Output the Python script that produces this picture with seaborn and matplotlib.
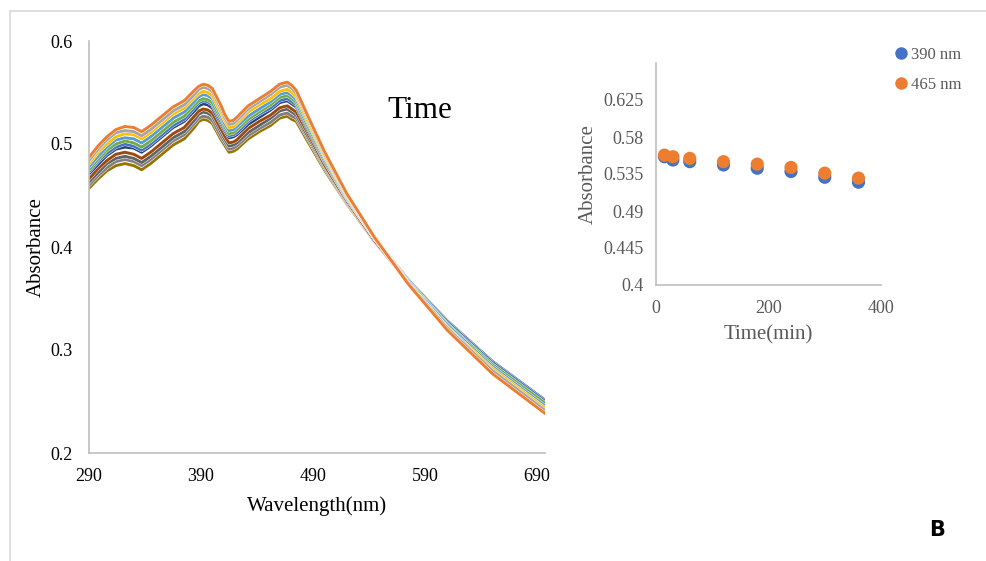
import numpy as np
import pandas as pd
import matplotlib
matplotlib.use("Agg")
import matplotlib.pyplot as plt
import matplotlib.patheffects as pe
from matplotlib.patches import Rectangle
from matplotlib.lines import Line2D
import seaborn as sns

# ---------------- data ----------------
wavelength = [290, 298, 306, 314, 322, 330, 337, 345, 355, 365, 375, 384, 388, 392, 396, 400, 408,
              411, 415, 419, 422, 432, 442, 452, 460, 463, 467, 471, 475, 485, 500, 520, 545,
              575, 610, 650, 700]

orange = [.487, .498, .507, .514, .517, .516, .512, .518, .527, .536, .542, .552, .556, .558, .557, .554, .537,
          .529, .522, .523, .526, .537, .544, .551, .558, .559, .560, .557, .552, .528, .493, .452, .409,
          .364, .319, .277, .236]
gray1 = [.484, .495, .504, .511, .513, .512, .508, .514, .523, .532, .538, .548, .553, .555, .554, .551, .534,
         .526, .519, .520, .523, .534, .541, .548, .555, .556, .557, .554, .549, .526, .491, .451, .409,
         .365, .321, .280, .239]
gold = [.481, .492, .500, .507, .510, .509, .505, .511, .520, .529, .535, .545, .549, .551, .550, .547, .530,
        .523, .516, .517, .520, .531, .538, .544, .551, .552, .553, .550, .546, .523, .489, .450, .409,
        .365, .322, .282, .241]
lightblue = [.478, .488, .497, .504, .506, .505, .501, .507, .516, .525, .531, .541, .546, .548, .547, .544, .527,
             .520, .513, .514, .517, .527, .534, .541, .548, .549, .550, .547, .543, .521, .488, .449, .408,
             .366, .324, .284, .243]
green = [.475, .485, .494, .500, .503, .501, .497, .503, .512, .521, .527, .538, .542, .544, .543, .540, .524,
         .517, .510, .511, .514, .524, .531, .538, .545, .546, .547, .544, .540, .518, .486, .448, .408,
         .367, .325, .286, .246]
blue = [.473, .483, .491, .497, .500, .498, .494, .500, .509, .518, .524, .535, .540, .542, .541, .538, .521,
        .515, .508, .509, .511, .522, .529, .535, .542, .543, .544, .541, .538, .516, .484, .447, .408,
        .368, .327, .288, .248]
navy = [.471, .480, .489, .495, .497, .496, .492, .498, .507, .516, .522, .532, .537, .539, .538, .535, .519,
        .513, .506, .507, .509, .519, .526, .533, .540, .541, .542, .539, .536, .514, .483, .447, .408,
        .368, .328, .289, .249]
brown = [.466, .476, .484, .490, .492, .490, .486, .492, .501, .510, .516, .527, .532, .534, .533, .530, .514,
         .508, .501, .502, .504, .515, .522, .528, .535, .536, .537, .534, .531, .511, .480, .445, .406,
         .367, .326, .287, .247]
darkgray = [.463, .472, .481, .486, .488, .486, .482, .488, .497, .506, .512, .523, .529, .531, .530, .527, .511,
            .505, .498, .499, .501, .511, .518, .525, .532, .533, .534, .531, .528, .508, .479, .444, .406,
            .367, .326, .287, .247]
gray2 = [.460, .469, .477, .483, .485, .483, .479, .485, .494, .503, .509, .520, .525, .527, .526, .523, .507,
         .502, .495, .496, .498, .508, .515, .521, .528, .529, .530, .527, .525, .506, .477, .443, .405,
         .366, .325, .286, .245]
olive = [.457, .466, .474, .479, .481, .479, .475, .481, .490, .499, .505, .516, .522, .524, .523, .520, .504,
         .499, .492, .493, .495, .505, .512, .518, .525, .526, .527, .524, .522, .503, .475, .442, .405,
         .366, .325, .286, .244]

# drawing order (bottom curve first, top curve last)
curve_names = ["olive", "gray2", "darkgray", "brown", "navy", "blue", "green",
               "lightblue", "gold", "gray1", "orange"]
curve_values = [olive, gray2, darkgray, brown, navy, blue, green, lightblue, gold, gray1, orange]
curve_colors = ["#997300", "#7F7F7F", "#636363", "#9E480E", "#264478", "#4472C4", "#70AD47",
                "#5B9BD5", "#FFC000", "#A5A5A5", "#ED7D31"]

time_min = [15, 30, 60, 120, 180, 240, 300, 360]
abs_390 = [0.556, 0.552, 0.550, 0.546, 0.542, 0.538, 0.531, 0.525]
abs_465 = [0.558, 0.556, 0.554, 0.550, 0.547, 0.543, 0.536, 0.530]

main_xticks = [290, 390, 490, 590, 690]
main_yticks = [0.2, 0.3, 0.4, 0.5, 0.6]
inset_xticks = [0, 200, 400]
inset_yticks = [0.4, 0.445, 0.49, 0.535, 0.58, 0.625]
inset_ytick_labels = ["0.4", "0.445", "0.49", "0.535", "0.58", "0.625"]

# ---------------- style ----------------
sns.set_theme(style="white")
plt.rcParams["font.family"] = ["Liberation Serif", "DejaVu Serif"]

AX_GRAY = "#BFBFBF"
TXT_GRAY = "#595959"

fig = plt.figure(figsize=(9.86, 5.61), dpi=100)
fig.patch.set_facecolor("white")

# outer light-gray frame
fig.patches.append(Rectangle((10 / 986, -0.1), 1.2, 1.1 - 11 / 561,
                             transform=fig.transFigure, fill=False,
                             edgecolor="#D9D9D9", linewidth=1.2))

# ---------------- main spectra ----------------
ax = fig.add_axes([89 / 986, 1 - 453 / 561, 456 / 986, 412 / 561])
spec_df = pd.DataFrame({
    "Wavelength": np.tile(wavelength, len(curve_names)),
    "Absorbance": np.concatenate([np.array(v) for v in curve_values]),
    "curve": np.repeat(curve_names, len(wavelength)),
})
sns.lineplot(data=spec_df, x="Wavelength", y="Absorbance", hue="curve",
             hue_order=curve_names, palette=curve_colors, sort=False,
             linewidth=2.1, legend=False, ax=ax)
for ln in ax.lines:
    ln.set_path_effects([pe.Stroke(linewidth=2.7, foreground="white"), pe.Normal()])
    ln.set_solid_capstyle("round")
    ln.set_solid_joinstyle("round")

ax.set_xlim(290, 697)
ax.set_ylim(0.2, 0.6)
ax.set_xticks(main_xticks)
ax.set_yticks(main_yticks)
ax.set_yticklabels([f"{t:.1f}" for t in main_yticks])
for s in ["top", "right"]:
    ax.spines[s].set_visible(False)
for s in ["left", "bottom"]:
    ax.spines[s].set_color(AX_GRAY)
    ax.spines[s].set_linewidth(1.2)
ax.tick_params(axis="both", direction="out", length=5, width=1.2, color=AX_GRAY,
               labelsize=13, labelcolor="black")
ax.tick_params(axis="y", pad=7)
ax.tick_params(axis="x", pad=6)
ax.set_xlabel("Wavelength(nm)", fontsize=15, color="black", labelpad=8)
ax.set_ylabel("Absorbance", fontsize=15, color="black", labelpad=3)
ax.text(420 / 986, 1 - 110 / 561, "Time", transform=fig.transFigure,
        fontsize=22.5, ha="center", va="center", color="black")

# ---------------- inset kinetics ----------------
ax2 = fig.add_axes([656 / 986, 1 - 285 / 561, 225 / 986, 222 / 561])
kin_df = pd.DataFrame({
    "Time": time_min * 2,
    "Abs": abs_390 + abs_465,
    "series": ["390 nm"] * len(time_min) + ["465 nm"] * len(time_min),
})
sns.scatterplot(data=kin_df, x="Time", y="Abs", hue="series",
                palette={"390 nm": "#4472C4", "465 nm": "#ED7D31"},
                s=90, edgecolor="none", ax=ax2, legend=False, zorder=3, clip_on=False)
ax2.set_xlim(0, 400)
ax2.set_ylim(0.4, 0.67)
ax2.set_xticks(inset_xticks)
ax2.set_yticks(inset_yticks)
ax2.set_yticklabels(inset_ytick_labels)
for s in ["top", "right"]:
    ax2.spines[s].set_visible(False)
for s in ["left", "bottom"]:
    ax2.spines[s].set_color(AX_GRAY)
    ax2.spines[s].set_linewidth(1.2)
ax2.tick_params(axis="both", direction="out", length=5, width=1.2, color=AX_GRAY,
                labelsize=13, labelcolor=TXT_GRAY)
ax2.tick_params(axis="y", pad=4)
ax2.tick_params(axis="x", pad=6)
ax2.set_xlabel("Time(min)", fontsize=15, color=TXT_GRAY, labelpad=6)
ax2.set_ylabel("Absorbance", fontsize=15, color=TXT_GRAY, labelpad=4)

# legend (top-right)
handles = [Line2D([], [], marker="o", linestyle="none", markersize=9,
                  markerfacecolor=c, markeredgecolor="none") for c in ["#4472C4", "#ED7D31"]]
fig.legend(handles, ["390 nm", "465 nm"], loc="upper left",
           bbox_to_anchor=(886 / 986, 1 - 40 / 561), frameon=False,
           fontsize=12, labelcolor=TXT_GRAY, handletextpad=0.1,
           labelspacing=0.85, borderaxespad=0, handlelength=1.0)

fig.text(937 / 986, 1 - 530 / 561, "B", fontsize=15, fontweight="bold",
         family=["DejaVu Sans"], ha="center", va="center", color="black")

fig.savefig("out.png", dpi=100, facecolor="white")
